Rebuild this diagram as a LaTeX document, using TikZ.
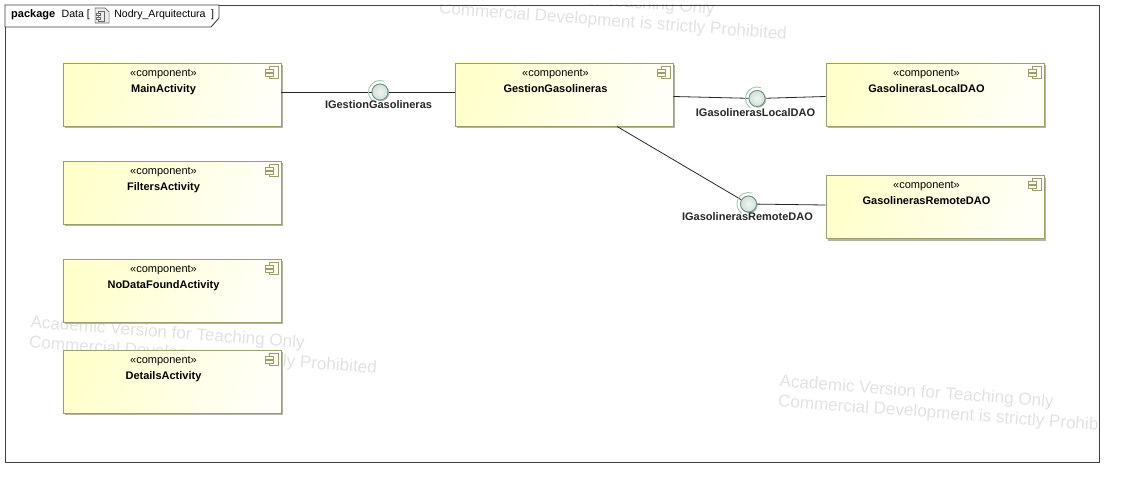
\documentclass[tikz,border=0pt]{standalone}
\usepackage{fontspec}
\setmainfont{Liberation Sans}
\usepackage{tikz}
\usetikzlibrary{positioning,shadows,calc}

\definecolor{compedge}{HTML}{9C9C6E}
\definecolor{compshadow}{HTML}{B4B4A4}
\definecolor{balledge}{HTML}{6F9482}
\definecolor{ballinner}{HTML}{F0F6F2}
\definecolor{ballouter}{HTML}{D2E0D8}
\definecolor{arcedge}{HTML}{A6C4B4}
\definecolor{markgray}{HTML}{E2E2E2}

\begin{document}
\begin{tikzpicture}[x=1pt,y=-1pt]
	\tikzset{compbox/.style={draw=compedge,line width=0.9pt,minimum width=218pt,minimum height=63pt,inner sep=0pt,left color=yellow!20,right color=yellow!3,shading angle=70,drop shadow={shadow xshift=2.2pt,shadow yshift=-2.2pt,fill=compshadow,opacity=1}}}
	\tikzset{comptext/.style={align=center,font=\fontsize{11}{15.8}\selectfont,inner sep=0pt,text=black}}
	\tikzset{compicon/.style={draw=compedge,line width=0.8pt,fill=yellow!8}}
	\tikzset{ball/.style={circle,draw=balledge,line width=0.8pt,minimum size=16pt,inner sep=0pt,inner color=ballinner,outer color=ballouter,drop shadow={shadow xshift=1pt,shadow yshift=-1pt,fill=compshadow,opacity=1}}}
	\tikzset{socket/.style={draw=arcedge,line width=0.9pt}}
	\tikzset{ifacelabel/.style={font=\fontsize{11}{12}\selectfont\bfseries,inner sep=0pt,text=black!85}}
	\tikzset{wire/.style={draw=black!85,line width=0.8pt}}
	\tikzset{watermark/.style={align=left,anchor=north west,rotate=-4.3,inner sep=0pt,text=markgray,font=\fontsize{17.1}{20}\selectfont}}
	\tikzset{titletext/.style={anchor=west,inner sep=0pt,font=\fontsize{10.6}{12}\selectfont}}
	\useasboundingbox (0,0) rectangle (1124,487);
	\fill[white] (0,0) rectangle (1124,487);

	\begin{scope}
		\clip (5,5) rectangle (1099,462);
		\foreach \markname/\markx/\marky in {marktop/441/-19,markleft/31/315,markright/780/374}
			\node[watermark] (\markname) at (\markx,\marky) {Academic Version for Teaching Only\\Commercial Development is strictly Prohibited};
	\end{scope}

	\draw[draw=black!75,line width=0.9pt] (5,5) rectangle (1099,462);
	\draw[draw=black!75,line width=0.9pt,fill=white] (5,5) -- (219,5) -- (219,18) -- (211,27) -- (5,27) -- cycle;
	\node[titletext,font=\fontsize{11}{12}\selectfont\bfseries] (titlekind) at (11,15) {package};
	\node[titletext,right=6pt of titlekind] (titlename) {Data [};
	\coordinate[right=5pt of titlename.east] (titleicon);
	\draw[draw=black!60,line width=0.6pt,fill=black!8] ($(titleicon)+(0,-7)$) -- ++(10,0) -- ++(4,4) -- ++(0,11) -- ++(-14,0) -- cycle;
	\draw[draw=black!60,line width=0.6pt] ($(titleicon)+(3,-4)$) rectangle ++(6,10);
	\draw[draw=black!60,line width=0.6pt,fill=white] ($(titleicon)+(1.5,-2)$) rectangle ++(4,2.5) ($(titleicon)+(1.5,2)$) rectangle ++(4,2.5);
	\node[titletext,right=19pt of titleicon] (titlediagram) {Nodry\_Arquitectura};
	\node[titletext,right=5pt of titlediagram] (titleclose) {]};

	\foreach \compname/\compx/\compy/\complabel in {main/172/94.5/MainActivity,filters/172/192.5/FiltersActivity,nodata/172/290.5/NoDataFoundActivity,details/172/381.5/DetailsActivity,gestion/564/94.5/GestionGasolineras,local/935/94.5/GasolinerasLocalDAO,remote/935/207/GasolinerasRemoteDAO}{
		\node[compbox] (\compname) at (\compx,\compy) {};
		\node[comptext,below=6.5pt of \compname.north,xshift=-8.5pt] (\compname text) {«component»\\\textbf{\complabel}};
		\draw[compicon] ([shift={(-12,3.5)}]\compname.north east) rectangle ++(9,12);
		\draw[compicon] ([shift={(-16,6.5)}]\compname.north east) rectangle ++(8,3);
		\draw[compicon] ([shift={(-16,10.5)}]\compname.north east) rectangle ++(8,3);
	}

	\node[ball] (ballgestion) at (380,92) {};
	\node[ball] (balllocal) at (757,98.5) {};
	\node[ball] (ballremote) at (748.5,204) {};

	\draw[wire] ([yshift=2.5pt]main.east) -- (ballgestion);
	\draw[wire] (ballgestion) -- ([yshift=2.5pt]gestion.west);
	\draw[wire] ([yshift=-2pt]gestion.east) -- (balllocal);
	\draw[wire] (balllocal) -- ([yshift=-2pt]local.west);
	\draw[wire] ([xshift=53pt]gestion.south) -- (ballremote);
	\draw[wire] (ballremote) -- ([yshift=2pt]remote.west);

	\foreach \ballname in {ballgestion,balllocal,ballremote}{
		\node[ball] at (\ballname) {};
		\draw[socket] ([shift={(3.9,-10.8)}]\ballname.center) arc (-70:-235:11.5);
	}

	\node[ifacelabel] (labelgestion) at (378.5,105) {IGestionGasolineras};
	\node[ifacelabel] (labellocal) at (755.5,113) {IGasolinerasLocalDAO};
	\node[ifacelabel] (labelremote) at (747.5,217) {IGasolinerasRemoteDAO};
\end{tikzpicture}
\end{document}
